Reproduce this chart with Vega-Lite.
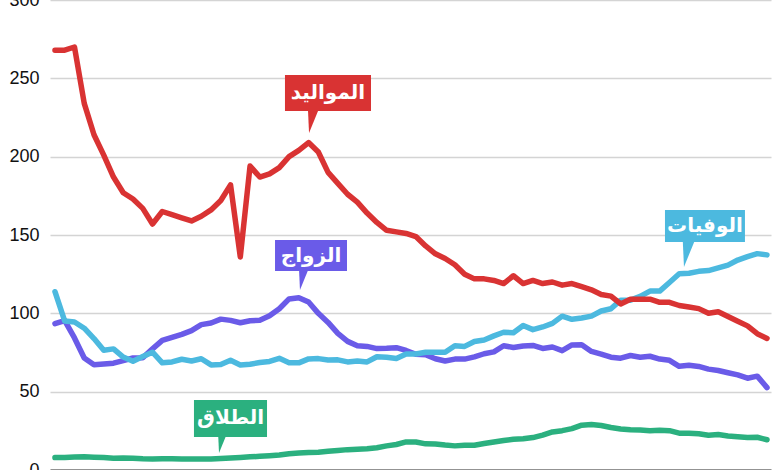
{
  "$schema": "https://vega.github.io/schema/vega-lite/v6.json",
  "width": 721,
  "height": 470,
  "autosize": {"type": "none"},
  "padding": {"left": 50, "top": 0, "right": 9, "bottom": 0},
  "background": "white",
  "config": {"view": {"stroke": null}},
  "datasets": {
    "series": [
      {"year":1947,"births":268,"deaths":113.8,"marriages":93.4,"divorces":7.9},
      {"year":1948,"births":268,"deaths":95.1,"marriages":95.4,"divorces":8.0},
      {"year":1949,"births":270,"deaths":94.5,"marriages":84.3,"divorces":8.3},
      {"year":1950,"births":234,"deaths":90.5,"marriages":71.5,"divorces":8.4},
      {"year":1951,"births":214,"deaths":83.9,"marriages":67.2,"divorces":8.2},
      {"year":1952,"births":201,"deaths":76.5,"marriages":67.7,"divorces":8.0},
      {"year":1953,"births":187,"deaths":77.3,"marriages":68.2,"divorces":7.5},
      {"year":1954,"births":177,"deaths":72.1,"marriages":69.8,"divorces":7.6},
      {"year":1955,"births":173,"deaths":69.4,"marriages":71.5,"divorces":7.5},
      {"year":1956,"births":167,"deaths":72.4,"marriages":71.6,"divorces":7.2},
      {"year":1957,"births":157,"deaths":75.2,"marriages":77.3,"divorces":7.1},
      {"year":1958,"births":165,"deaths":68.4,"marriages":82.7,"divorces":7.2},
      {"year":1959,"births":163,"deaths":69.0,"marriages":84.7,"divorces":7.2},
      {"year":1960,"births":161,"deaths":70.7,"marriages":86.6,"divorces":7.0},
      {"year":1961,"births":159,"deaths":69.6,"marriages":89.0,"divorces":7.0},
      {"year":1962,"births":162,"deaths":71.0,"marriages":92.8,"divorces":7.1},
      {"year":1963,"births":166,"deaths":67.1,"marriages":93.8,"divorces":7.0},
      {"year":1964,"births":172,"deaths":67.3,"marriages":96.3,"divorces":7.3},
      {"year":1965,"births":182,"deaths":70.0,"marriages":95.5,"divorces":7.7},
      {"year":1966,"births":136,"deaths":67.0,"marriages":94.0,"divorces":8.0},
      {"year":1967,"births":194,"deaths":67.5,"marriages":95.3,"divorces":8.4},
      {"year":1968,"births":187,"deaths":68.6,"marriages":95.6,"divorces":8.7},
      {"year":1969,"births":189,"deaths":69.3,"marriages":98.4,"divorces":9.1},
      {"year":1970,"births":193,"deaths":71.3,"marriages":102.9,"divorces":9.6},
      {"year":1971,"births":200,"deaths":68.5,"marriages":109.2,"divorces":10.4},
      {"year":1972,"births":204,"deaths":68.4,"marriages":110.0,"divorces":10.9},
      {"year":1973,"births":209,"deaths":70.9,"marriages":107.2,"divorces":11.2},
      {"year":1974,"births":203,"deaths":71.1,"marriages":100.0,"divorces":11.4},
      {"year":1975,"births":190,"deaths":70.2,"marriages":94.2,"divorces":11.9},
      {"year":1976,"births":183,"deaths":70.3,"marriages":87.2,"divorces":12.4},
      {"year":1977,"births":176,"deaths":69.0,"marriages":82.1,"divorces":13.0},
      {"year":1978,"births":171,"deaths":69.6,"marriages":79.3,"divorces":13.2},
      {"year":1979,"births":164,"deaths":69.0,"marriages":78.9,"divorces":13.5},
      {"year":1980,"births":158,"deaths":72.3,"marriages":77.5,"divorces":14.2},
      {"year":1981,"births":153,"deaths":72.0,"marriages":77.7,"divorces":15.4},
      {"year":1982,"births":152,"deaths":71.2,"marriages":78.1,"divorces":16.3},
      {"year":1983,"births":151,"deaths":74.0,"marriages":76.3,"divorces":17.9},
      {"year":1984,"births":149,"deaths":74.0,"marriages":73.9,"divorces":17.9},
      {"year":1985,"births":143,"deaths":75.2,"marriages":73.6,"divorces":16.7},
      {"year":1986,"births":138,"deaths":75.1,"marriages":71.0,"divorces":16.6},
      {"year":1987,"births":135,"deaths":75.1,"marriages":69.6,"divorces":15.9},
      {"year":1988,"births":131,"deaths":79.3,"marriages":70.8,"divorces":15.4},
      {"year":1989,"births":125,"deaths":78.9,"marriages":70.8,"divorces":15.8},
      {"year":1990,"births":122,"deaths":82.0,"marriages":72.2,"divorces":15.8},
      {"year":1991,"births":122,"deaths":83.0,"marriages":74.2,"divorces":16.9},
      {"year":1992,"births":121,"deaths":85.6,"marriages":75.4,"divorces":17.9},
      {"year":1993,"births":119,"deaths":87.9,"marriages":79.3,"divorces":18.8},
      {"year":1994,"births":124,"deaths":87.6,"marriages":78.2,"divorces":19.6},
      {"year":1995,"births":119,"deaths":92.2,"marriages":79.2,"divorces":19.9},
      {"year":1996,"births":121,"deaths":89.6,"marriages":79.5,"divorces":20.7},
      {"year":1997,"births":119,"deaths":91.3,"marriages":77.6,"divorces":22.3},
      {"year":1998,"births":120,"deaths":93.6,"marriages":78.5,"divorces":24.3},
      {"year":1999,"births":118,"deaths":98.2,"marriages":76.2,"divorces":25.1},
      {"year":2000,"births":119,"deaths":96.2,"marriages":79.8,"divorces":26.4},
      {"year":2001,"births":117,"deaths":97.0,"marriages":80.0,"divorces":28.6},
      {"year":2002,"births":115,"deaths":98.2,"marriages":75.7,"divorces":29.0},
      {"year":2003,"births":112,"deaths":101.5,"marriages":74.0,"divorces":28.4},
      {"year":2004,"births":111,"deaths":102.9,"marriages":72.0,"divorces":27.1},
      {"year":2005,"births":106,"deaths":108.4,"marriages":71.4,"divorces":26.2},
      {"year":2006,"births":109,"deaths":108.4,"marriages":73.1,"divorces":25.7},
      {"year":2007,"births":109,"deaths":110.8,"marriages":72.0,"divorces":25.5},
      {"year":2008,"births":109,"deaths":114.2,"marriages":72.6,"divorces":25.1},
      {"year":2009,"births":107,"deaths":114.2,"marriages":70.8,"divorces":25.3},
      {"year":2010,"births":107,"deaths":119.7,"marriages":70.0,"divorces":25.1},
      {"year":2011,"births":105,"deaths":125.3,"marriages":66.2,"divorces":23.5},
      {"year":2012,"births":104,"deaths":125.6,"marriages":66.9,"divorces":23.5},
      {"year":2013,"births":103,"deaths":126.8,"marriages":66.1,"divorces":23.1},
      {"year":2014,"births":100,"deaths":127.3,"marriages":64.4,"divorces":22.2},
      {"year":2015,"births":101,"deaths":129.0,"marriages":63.5,"divorces":22.6},
      {"year":2016,"births":98,"deaths":130.8,"marriages":62.1,"divorces":21.7},
      {"year":2017,"births":95,"deaths":134.0,"marriages":60.7,"divorces":21.2},
      {"year":2018,"births":92,"deaths":136.2,"marriages":58.6,"divorces":20.8},
      {"year":2019,"births":87,"deaths":138.1,"marriages":59.9,"divorces":20.9},
      {"year":2020,"births":84,"deaths":137.3,"marriages":52.6,"divorces":19.3}
    ],
    "labels": [
      {"series":"births","label":"المواليد","x1":1970.58,"x2":1979.40,"y1":229.1,"y2":252.1,"xc":1974.99,"yc":240.6,"px":1973.56,"py":223.1},
      {"series":"marriages","label":"الزواج","x1":1969.56,"x2":1976.94,"y1":127.0,"y2":146.8,"xc":1973.25,"yc":136.9,"px":1972.63,"py":122.9},
      {"series":"deaths","label":"الوفيات","x1":2009.54,"x2":2017.74,"y1":145.5,"y2":166.0,"xc":2013.64,"yc":155.7,"px":2012.0,"py":137.6},
      {"series":"divorces","label":"الطلاق","x1":1961.25,"x2":1968.74,"y1":21.1,"y2":44.7,"xc":1965.0,"yc":32.9,"px":1964.33,"py":18.8}
    ]
  },
  "encoding": {
    "x": {"type": "quantitative", "scale": {"domain": [1946.49, 2020.41], "nice": false, "zero": false},
          "axis": {"title": null, "labels": false, "ticks": false, "grid": false, "domain": true, "domainColor": "#333333", "domainWidth": 2}},
    "y": {"type": "quantitative", "scale": {"domain": [0, 300], "nice": false},
          "axis": {"title": null, "values": [0, 50, 100, 150, 200, 250, 300], "ticks": false, "domain": false, "grid": true, "gridColor": "#d4d4d4", "gridWidth": 1.3, "labelFont": "Liberation Sans", "labelFontSize": 18, "labelColor": "#111111", "labelPadding": 11}}
  },
  "layer": [
    {
      "data": {"name": "series"},
      "mark": {"type": "line", "color": "#2bb07f", "strokeWidth": 5.5, "strokeCap": "round", "strokeJoin": "round"},
      "encoding": {"x": {"field": "year"}, "y": {"field": "divorces"}}
    },
    {
      "data": {"name": "series"},
      "mark": {"type": "line", "color": "#6a5be8", "strokeWidth": 5.5, "strokeCap": "round", "strokeJoin": "round"},
      "encoding": {"x": {"field": "year"}, "y": {"field": "marriages"}}
    },
    {
      "data": {"name": "series"},
      "mark": {"type": "line", "color": "#4cb9df", "strokeWidth": 5.5, "strokeCap": "round", "strokeJoin": "round"},
      "encoding": {"x": {"field": "year"}, "y": {"field": "deaths"}}
    },
    {
      "data": {"name": "series"},
      "mark": {"type": "line", "color": "#d93333", "strokeWidth": 5.5, "strokeCap": "round", "strokeJoin": "round"},
      "encoding": {"x": {"field": "year"}, "y": {"field": "births"}}
    },
    {
      "data": {"name": "labels"},
      "mark": {"type": "point", "shape": "M-0.5,-1.2L0.5,-1.2L-0.4,1Z", "filled": true, "size": 625, "opacity": 1, "strokeWidth": 0},
      "encoding": {
        "x": {"field": "px"},
        "y": {"field": "py"},
        "color": {"field": "series", "type": "nominal", "legend": null,
                  "scale": {"domain": ["births", "marriages", "deaths", "divorces"], "range": ["#d93333", "#6a5be8", "#4cb9df", "#2bb07f"]}}
      }
    },
    {
      "data": {"name": "labels"},
      "mark": {"type": "rect"},
      "encoding": {
        "x": {"field": "x1"},
        "x2": {"field": "x2"},
        "y": {"field": "y1"},
        "y2": {"field": "y2"},
        "color": {"field": "series", "type": "nominal", "legend": null}
      }
    },
    {
      "data": {"name": "labels"},
      "mark": {"type": "text", "font": "DejaVu Sans", "fontWeight": "bold", "fontSize": 20, "color": "white", "align": "center", "baseline": "middle"},
      "encoding": {
        "x": {"field": "xc"},
        "y": {"field": "yc"},
        "text": {"field": "label"}
      }
    }
  ]
}
